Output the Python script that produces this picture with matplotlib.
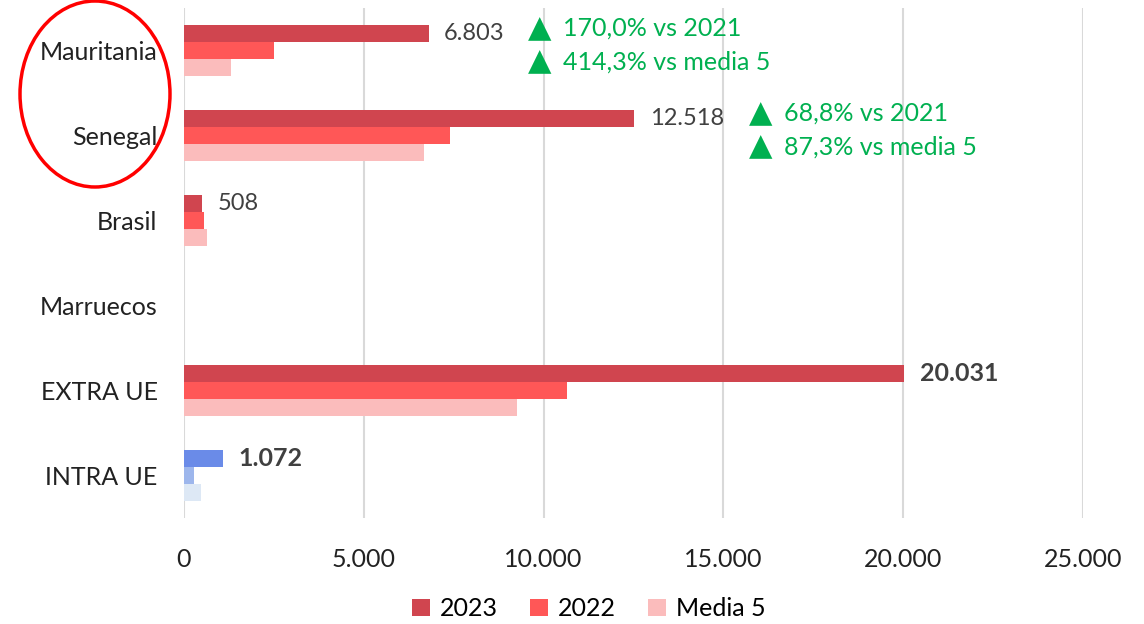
import numpy as np
import matplotlib.pyplot as plt
from matplotlib.patches import Ellipse

# Import volumes by origin
origenes = ['Mauritania', 'Senegal', 'Brasil', 'Marruecos', 'EXTRA UE', 'INTRA UE']
v2023 = [6803, 12518, 508, 0, 20031, 1072]
v2022 = [2500, 7390, 560, 0, 10640, 280]
media5 = [1300, 6670, 640, 0, 9250, 470]
series = ['2023', '2022', 'Media 5']

# Variation notes for the two circled origins
notas = {
    'Mauritania': ['170,0% vs 2021', '414,3% vs media 5'],
    'Senegal': ['68,8% vs 2021', '87,3% vs media 5'],
}

rojos = ['#D0454F', '#FF5757', '#FBBCBC']
azules = ['#6A8BE8', '#9DB6EC', '#DDE8F5']
verde = '#00B050'

plt.rcParams['font.family'] = ['Lato', 'DejaVu Sans']

fig = plt.figure(figsize=(11.44, 6.24), dpi=100)
ax = fig.add_axes([0.1608, 0.170, 0.786, 0.817])

y = np.arange(len(origenes))
h = 0.2
for i, vals in enumerate([v2023, v2022, media5]):
    cols = [azules[i] if o == 'INTRA UE' else rojos[i] for o in origenes]
    ax.barh(y + (i - 1) * h, vals, height=h, color=cols, label=series[i], zorder=2)

# Value labels on the 2023 bars
bold = ['EXTRA UE', 'INTRA UE']
for yi, o, v in zip(y, origenes, v2023):
    if v == 0:
        continue
    txt = f'{v:,}'.replace(',', '.')
    es_bold = o in bold
    ax.text(v + 430, yi - h, txt, va='center', ha='left',
            fontsize=18 if es_bold else 17, color='#404040',
            fontweight='bold' if es_bold else 'normal')

# Green up-arrows with the growth notes
for o, xpos in [('Mauritania', 9560), ('Senegal', 15710)]:
    yi = origenes.index(o)
    for k, line in enumerate(notas[o]):
        yy = yi - 0.26 + k * 0.395
        ax.text(xpos, yy, '▲', va='center', ha='left', fontsize=22,
                color=verde, family='DejaVu Sans')
        ax.annotate(line, (xpos, yy), xytext=(25, 0), textcoords='offset points',
                    va='center', ha='left', fontsize=18, color=verde)

ax.set_xlim(0, 25000)
ax.set_ylim(len(origenes) - 0.5, -0.5)
ax.set_xticks(range(0, 25001, 5000))
ax.set_xticklabels([f'{t:,}'.replace(',', '.') for t in range(0, 25001, 5000)])
ax.set_yticks(y)
ax.set_yticklabels(origenes)
ax.tick_params(axis='both', length=0, labelsize=18, labelcolor='#222222')
ax.tick_params(axis='y', pad=19)
ax.tick_params(axis='x', pad=22)
ax.grid(axis='x', color='#D9D9D9', linewidth=1.5, zorder=0)
for s in ax.spines.values():
    s.set_visible(False)

ax.legend(loc='center', bbox_to_anchor=(0.45, -0.178), ncol=3, frameon=False,
          fontsize=18, handlelength=0.7, handleheight=0.7, handletextpad=0.4,
          columnspacing=1.3, borderaxespad=0)

# Red ellipse around the first two origins
fig.patches.append(Ellipse((95 / 1144, 1 - 94 / 624), 150 / 1144, 186 / 624,
                           transform=fig.transFigure, fill=False,
                           edgecolor='#FF0000', linewidth=2.5))

fig.savefig('out.png', dpi=100)
